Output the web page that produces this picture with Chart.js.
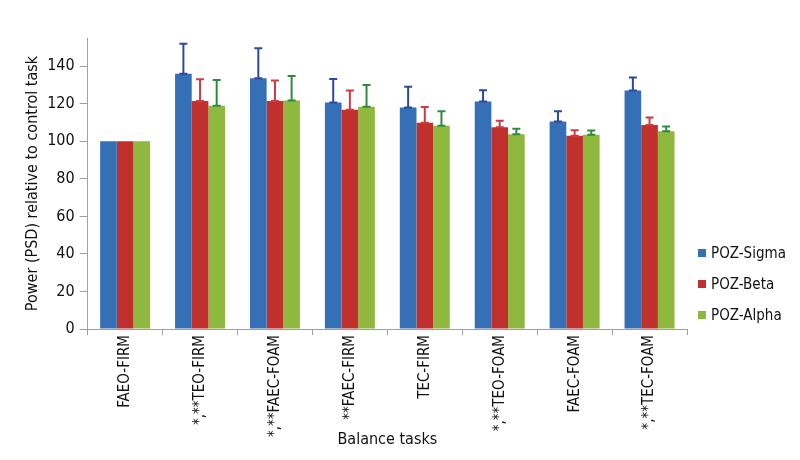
<!DOCTYPE html>
<html>
<head>
<meta charset="utf-8">
<script src="https://cdn.jsdelivr.net/npm/chart.js@4"></script>
<style>
  body { margin: 0; background: #fff; }
  #wrap { position: relative; width: 800px; height: 460px; }
  #legend { position: absolute; left: 698px; top: 243px; font-family: "Liberation Sans Narrow", "DejaVu Sans Condensed", sans-serif; font-size: 15px; color: #111; }
  #legend div { height: 31px; line-height: 20px; white-space: nowrap; }
  #legend span { display: inline-block; width: 8px; height: 8px; margin-right: 5px; vertical-align: 1px; }
</style>
</head>
<body>
<div id="wrap">
  <canvas id="chart" width="800" height="460"></canvas>
  <div id="legend"></div>
</div>
<script>
// 数据
const tasks = ['FAEO-FIRM', '*,**TEO-FIRM', '*,**FAEC-FOAM', '**FAEC-FIRM', 'TEC-FIRM', '*,**TEO-FOAM', 'FAEC-FOAM', '*,**TEC-FOAM'];
const sigmaVals = [100, 136, 133.5, 120.7, 118, 121.2, 110.5, 127];
const sigmaErr  = [0, 16, 16, 12.5, 11, 6, 5.5, 7];
const betaVals  = [100, 121.4, 121.4, 116.8, 109.8, 107.5, 102.9, 108.7];
const betaErr   = [0, 11.6, 11, 10.2, 8.4, 3.4, 3, 4];
const alphaVals = [100, 118.9, 121.7, 118.4, 108.2, 103.7, 103.4, 105.3];
const alphaErr  = [0, 13.7, 13, 11.6, 7.8, 2.9, 2.3, 2.5];
const yTicks = [0, 20, 40, 60, 80, 100, 120, 140];

const font = '"Liberation Sans Narrow", "DejaVu Sans Condensed", sans-serif';

const series = [
    { label: 'POZ-Sigma', data: sigmaVals, err: sigmaErr, color: '#3570b6', errColor: '#2f4a9a' },
    { label: 'POZ-Beta',  data: betaVals,  err: betaErr,  color: '#c0312e', errColor: '#cc3b42' },
    { label: 'POZ-Alpha', data: alphaVals, err: alphaErr, color: '#8fb83f', errColor: '#2f8a3c' }
];

// 误差线
const errorBars = {
    id: 'errorBars',
    afterDatasetsDraw(chart) {
        const ctx = chart.ctx;
        const y = chart.scales.y;
        chart.data.datasets.forEach((ds, i) => {
            const meta = chart.getDatasetMeta(i);
            meta.data.forEach((bar, j) => {
                const e = ds.err[j];
                if (!e) return;
                const top = y.getPixelForValue(ds.data[j] + e);
                const base = y.getPixelForValue(ds.data[j]);
                ctx.save();
                ctx.strokeStyle = ds.errColor;
                ctx.lineWidth = 2;
                ctx.beginPath();
                ctx.moveTo(bar.x, base);
                ctx.lineTo(bar.x, top);
                ctx.moveTo(bar.x - 4, top);
                ctx.lineTo(bar.x + 4, top);
                ctx.moveTo(bar.x - 4, base);
                ctx.lineTo(bar.x + 4, base);
                ctx.stroke();
                ctx.restore();
            });
        });
    }
};

new Chart(document.getElementById('chart'), {
    type: 'bar',
    data: {
        labels: tasks,
        datasets: series.map(s => ({
            label: s.label,
            data: s.data,
            err: s.err,
            errColor: s.errColor,
            backgroundColor: s.color,
            categoryPercentage: 0.667,
            barPercentage: 1
        }))
    },
    options: {
        responsive: false,
        animation: false,
        layout: { padding: { left: 19, right: 113, top: 38, bottom: 2 } },
        plugins: { legend: { display: false }, tooltip: { enabled: false } },
        scales: {
            x: {
                afterFit: axis => { axis.height = 129; },
                grid: { drawOnChartArea: false, color: '#a0a0a0', tickLength: 6 },
                border: { color: '#a0a0a0' },
                ticks: { maxRotation: 90, minRotation: 90, color: '#111', font: { family: font, size: 15 }, padding: 0 },
                title: { display: true, text: 'Balance tasks', color: '#111', font: { family: font, size: 16 }, padding: { top: 0, bottom: 9 } }
            },
            y: {
                min: 0,
                max: 155,
                afterBuildTicks: axis => { axis.ticks = yTicks.map(v => ({ value: v })); },
                grid: { drawOnChartArea: false, color: '#a0a0a0', tickLength: 8 },
                border: { color: '#a0a0a0' },
                ticks: { color: '#111', font: { family: font, size: 16 }, padding: 5 },
                title: { display: true, text: 'Power (PSD) relative to control task', color: '#111', font: { family: font, size: 16 }, padding: { bottom: 0 } }
            }
        }
    },
    plugins: [errorBars]
});

// 图例
const legend = document.getElementById('legend');
series.forEach(s => {
    const row = document.createElement('div');
    row.innerHTML = '<span style="background:' + s.color + '"></span>' + s.label;
    legend.appendChild(row);
});
</script>
</body>
</html>
